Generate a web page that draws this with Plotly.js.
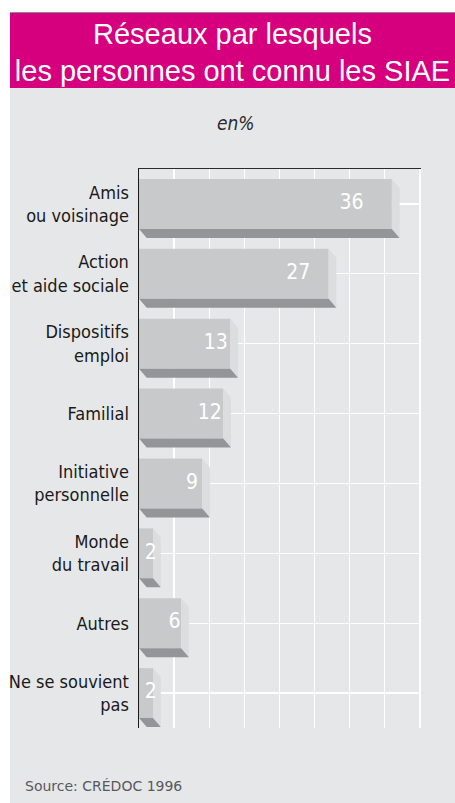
<!DOCTYPE html>
<html>
<head>
<meta charset="utf-8">
<script src="https://cdn.plot.ly/plotly-3.0.1.min.js"></script>
<style>
html,body{margin:0;padding:0;background:#fff;}
#chart{width:455px;height:803px;}
</style>
</head>
<body>
<div id="chart"></div>
<script>
const categories = ['Amis<br>ou voisinage', 'Action<br>et aide sociale', 'Dispositifs<br>emploi', 'Familial', 'Initiative<br>personnelle', 'Monde<br>du travail', 'Autres', 'Ne se souvient<br>pas'];
const values = [36, 27, 13, 12, 9, 2, 6, 2];
const xTickVals = [0, 5, 10, 15, 20, 25, 30, 35, 40];
const titleText = 'Réseaux par lesquels<br>les personnes ont connu les SIAE';
const unitText = 'en%';
const sourceText = 'Source: CRÉDOC 1996';

const idx = categories.map((c, i) => i);
const half = 0.357, dx = 1.1, dy = 0.13;

// 3D faces built from values
const sideX = [], sideY = [], botX = [], botY = [];
values.forEach((v, i) => {
  sideX.push(v, v + dx, v + dx, v, v, null);
  sideY.push(i - half, i - half + dy, i + half + dy, i + half, i - half, null);
  botX.push(0, v, v + dx, dx, 0, null);
  botY.push(i + half, i + half, i + half + dy, i + half + dy, i + half, null);
});

const narrow = '"Liberation Sans Narrow", "DejaVu Sans Condensed", "Liberation Sans", sans-serif';

const traces = [
  {
    type: 'bar', orientation: 'h', x: values, y: idx, width: 2 * half,
    marker: {color: '#c8c9cb', line: {width: 0}}, hoverinfo: 'skip'
  },
  {
    type: 'scatter', mode: 'lines', x: sideX, y: sideY, fill: 'toself',
    fillcolor: '#dcdddf', line: {width: 0, color: '#dcdddf'}, hoverinfo: 'skip'
  },
  {
    type: 'scatter', mode: 'lines', x: botX, y: botY, fill: 'toself',
    fillcolor: '#939598', line: {width: 0, color: '#939598'}, hoverinfo: 'skip'
  },
  {
    type: 'scatter', mode: 'text', x: values.map(v => v * 0.84), y: idx,
    text: values.map(String), textposition: 'middle center',
    textfont: {family: narrow, size: 21, color: '#ffffff'}, hoverinfo: 'skip'
  }
];

const L = 139, R = 421, T = 169, B = 728;
const px = x => (x - L) / (R - L);
const py = y => (B - y) / (B - T);

const layout = {
  width: 455, height: 803,
  margin: {l: L, r: 455 - R, t: T, b: 803 - B},
  paper_bgcolor: '#ffffff',
  plot_bgcolor: '#e6e7e9',
  showlegend: false,
  barmode: 'overlay',
  title: {
    text: titleText, x: 232.5 / 455, xanchor: 'center', xref: 'container',
    y: 1 - 43.5 / 803, yanchor: 'middle', yref: 'container',
    font: {family: '"Liberation Sans", Arial, sans-serif', size: 29, color: '#ffffff'}
  },
  xaxis: {
    range: [0, 40.15], tickvals: xTickVals, showticklabels: false, ticks: '',
    showgrid: true, gridcolor: '#ffffff', gridwidth: 1.3, zeroline: false,
    side: 'top', showline: true, linecolor: '#2b2b2b', linewidth: 1.5,
    fixedrange: true
  },
  yaxis: {
    range: [7.5, -0.5], tickvals: idx, ticktext: categories, ticks: '',
    showgrid: true, gridcolor: '#ffffff', gridwidth: 1.3, zeroline: false,
    showline: true, linecolor: '#1a1a1a', linewidth: 1.5, layer: 'below traces',
    ticklabelstandoff: 5,
    tickfont: {family: narrow, size: 18, color: '#1a1a1a'},
    fixedrange: true
  },
  shapes: [
    {type: 'rect', xref: 'paper', yref: 'paper', x0: px(10), x1: px(455), y0: py(803), y1: py(88),
     fillcolor: '#e6e7e9', line: {width: 0}, layer: 'below'},
    {type: 'rect', xref: 'paper', yref: 'paper', x0: px(10), x1: px(455), y0: py(88), y1: py(12),
     fillcolor: '#d6007f', line: {width: 0}, layer: 'below'},
    {type: 'line', xref: 'paper', yref: 'paper', x0: px(10), x1: px(455), y0: py(12.5), y1: py(12.5),
     line: {width: 1, color: '#8a8a8a'}, layer: 'below'}
  ],
  annotations: [
    {text: '<i>' + unitText + '</i>', xref: 'paper', yref: 'paper', x: px(236), y: py(123),
     xanchor: 'center', yanchor: 'middle', showarrow: false,
     font: {family: narrow, size: 19, color: '#2b2b2b'}},
    {text: sourceText, xref: 'paper', yref: 'paper', x: px(23), y: py(786),
     xanchor: 'left', yanchor: 'middle', showarrow: false,
     font: {family: '"DejaVu Sans", sans-serif', size: 14, color: '#58595b'}}
  ]
};

Plotly.newPlot('chart', traces, layout, {staticPlot: true, displayModeBar: false});
</script>
</body>
</html>
